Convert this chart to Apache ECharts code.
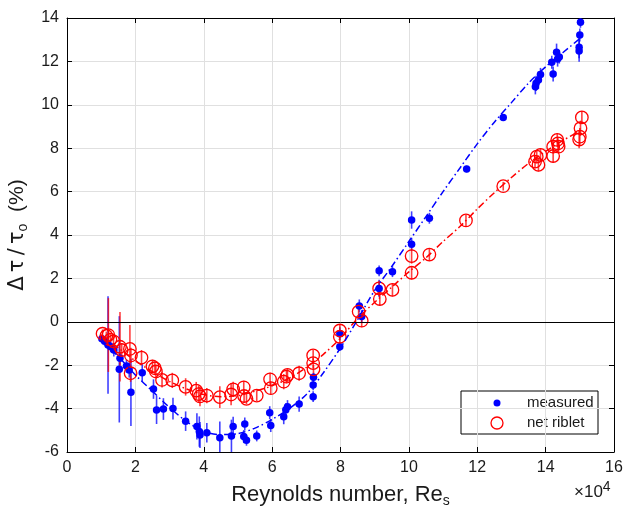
<!DOCTYPE html>
<html>
<head>
<meta charset="utf-8">
<script src="https://cdn.jsdelivr.net/npm/echarts@6/dist/echarts.min.js"></script>
<style>
  html, body { margin: 0; padding: 0; background: #fff; }
  #chart { width: 627px; height: 511px; }
</style>
</head>
<body>
<div id="chart"></div>
<script>
// Reynolds number (×10^4), drag change (%) and half-length of the error bar
var measuredRe = [1.02, 1.10, 1.20, 1.28, 1.37, 1.53, 1.55, 1.74, 1.82, 1.87, 2.20, 2.53, 2.62, 2.82, 3.10, 3.47, 3.80, 3.87, 3.89, 4.09, 4.47, 4.81, 4.86, 5.20, 5.17, 5.25, 5.55, 5.93, 5.96, 6.34, 6.40, 6.45, 6.79, 7.20, 7.20, 7.21, 7.98, 7.98, 8.55, 8.62, 9.13, 9.13, 9.52, 10.08, 10.08, 10.60, 11.69, 12.76, 13.70, 13.72, 13.79, 13.85, 14.18, 14.22, 14.32, 14.35, 14.40, 14.98, 14.98, 15.00, 15.02];
var measuredDrag = [-0.78, -0.90, -1.07, -1.15, -1.30, -2.19, -1.68, -2.04, -2.22, -3.25, -2.35, -3.10, -4.06, -4.02, -4.00, -4.58, -4.82, -5.06, -5.22, -5.11, -5.34, -5.26, -4.83, -4.71, -5.29, -5.46, -5.26, -4.19, -4.78, -4.37, -4.05, -3.91, -3.79, -3.45, -2.91, -2.55, -1.15, -0.55, 0.73, 0.24, 1.54, 2.35, 2.31, 3.57, 4.69, 4.77, 7.04, 9.42, 10.83, 10.99, 11.14, 11.40, 11.96, 11.42, 12.42, 12.11, 12.20, 12.48, 12.65, 13.22, 13.80];
var measuredErr = [0.15, 0.20, 2.25, 0.25, 0.30, 2.45, 0.30, 0.30, 0.35, 1.55, 0.40, 0.45, 0.65, 0.50, 0.50, 0.45, 0.60, 0.70, 0.60, 0.45, 0.75, 0.75, 0.45, 0.30, 0.30, 0.25, 0.25, 0.30, 0.30, 0.35, 0.30, 0.30, 0.35, 0.25, 0.25, 0.20, 0.20, 0.30, 0.30, 0.30, 0.40, 0.25, 0.25, 0.30, 0.40, 0.25, 0.15, 0.15, 0.35, 0.35, 0.40, 0.30, 0.30, 0.35, 0.40, 0.35, 0.30, 0.50, 0.50, 0.30, 0.25];

var netRe = [1.04, 1.15, 1.21, 1.27, 1.36, 1.55, 1.60, 1.84, 1.87, 1.86, 2.18, 2.50, 2.57, 2.60, 2.78, 3.08, 3.47, 3.78, 3.85, 3.89, 4.09, 4.47, 4.80, 4.86, 5.17, 5.18, 5.25, 5.55, 5.94, 5.96, 6.34, 6.42, 6.45, 6.79, 7.20, 7.20, 7.21, 7.98, 7.98, 8.53, 8.62, 9.13, 9.15, 9.52, 10.08, 10.08, 10.60, 11.67, 12.76, 13.69, 13.74, 13.79, 13.85, 14.22, 14.22, 14.34, 14.36, 14.38, 14.98, 15.00, 15.02, 15.06];
var netDrag = [-0.55, -0.65, -0.61, -0.82, -0.90, -1.15, -1.30, -1.25, -1.55, -2.37, -1.65, -2.05, -2.14, -2.29, -2.68, -2.70, -3.00, -3.17, -3.33, -3.44, -3.40, -3.47, -3.35, -3.11, -3.02, -3.42, -3.55, -3.40, -2.65, -3.06, -2.76, -2.53, -2.45, -2.37, -1.55, -1.90, -2.19, -0.40, -0.69, 0.47, 0.05, 1.54, 1.05, 1.47, 3.03, 2.26, 3.10, 4.67, 6.25, 7.38, 7.61, 7.23, 7.69, 8.07, 7.64, 8.38, 8.22, 8.07, 8.40, 8.53, 8.92, 9.42];
var netErr = [0.20, 0.20, 1.70, 0.30, 0.30, 1.60, 0.30, 1.10, 0.35, 0.40, 0.35, 0.30, 0.30, 0.30, 0.35, 0.35, 0.40, 0.40, 0.40, 0.45, 0.35, 0.50, 0.50, 0.35, 0.30, 0.30, 0.25, 0.25, 0.30, 0.30, 0.35, 0.30, 0.30, 0.35, 0.25, 0.25, 0.20, 0.25, 0.30, 0.30, 0.30, 0.35, 0.30, 0.30, 0.35, 0.30, 0.30, 0.25, 0.20, 0.30, 0.30, 0.30, 0.30, 0.30, 0.30, 0.30, 0.30, 0.30, 0.40, 0.40, 0.35, 0.30];

// Smooth fitted trends
var measuredFitRe = [1.0, 1.5, 2.0, 2.5, 3.0, 3.5, 4.0, 4.5, 5.0, 5.5, 6.0, 6.5, 7.0, 7.5, 8.0, 8.5, 9.0, 9.5, 10.0, 10.5, 11.0, 11.5, 12.0, 12.5, 13.0, 13.5, 14.0, 14.5, 15.0];
var measuredFitDrag = [-0.8, -1.6, -2.45, -3.2, -3.95, -4.6, -5.05, -5.2, -5.15, -4.9, -4.5, -4.0, -3.35, -2.35, -1.2, 0.1, 1.45, 2.55, 3.7, 4.85, 6.0, 7.1, 8.2, 9.2, 10.1, 11.0, 11.75, 12.4, 13.05];
var netFitRe = [1.0, 1.5, 2.0, 2.5, 3.0, 3.5, 4.0, 4.5, 5.0, 5.5, 6.0, 6.5, 7.0, 7.5, 8.0, 8.5, 9.0, 9.5, 10.0, 10.5, 11.0, 11.5, 12.0, 12.5, 13.0, 13.5, 14.0, 14.5, 15.0];
var netFitDrag = [-0.6, -1.2, -1.8, -2.3, -2.75, -3.1, -3.35, -3.45, -3.4, -3.2, -2.95, -2.6, -2.1, -1.5, -0.75, 0.15, 0.9, 1.6, 2.3, 2.95, 3.7, 4.4, 5.2, 5.95, 6.65, 7.3, 7.85, 8.35, 8.8];

var xTicks = [0, 16, 2];
var yTicks = [-6, 14, 2];

var BLUE = '#0000ff';
var RED = '#ff0000';
var INK = '#1a1a1a';
var FONT = '"Liberation Sans", Arial, Helvetica, sans-serif';
var GREEK = '"DejaVu Sans", "Liberation Sans", sans-serif';

function zip(a, b) { return a.map(function (v, i) { return [v, b[i]]; }); }
function bars(x, y, e) { return x.map(function (v, i) { return [v, y[i] - e[i], y[i] + e[i]]; }); }

function errorSeries(name, data, color) {
  return {
    name: name,
    type: 'custom',
    silent: true,
    clip: true,
    encode: { x: 0, y: [1, 2] },
    data: data,
    renderItem: function (params, api) {
      var p1 = api.coord([api.value(0), api.value(1)]);
      var p2 = api.coord([api.value(0), api.value(2)]);
      return {
        type: 'line',
        shape: { x1: p1[0], y1: p1[1], x2: p2[0], y2: p2[1] },
        style: { stroke: color, lineWidth: 1.6, opacity: 0.75 }
      };
    }
  };
}

var chart = echarts.init(document.getElementById('chart'), null, { renderer: 'canvas' });

var tickLabel = { color: INK, fontSize: 16, fontFamily: FONT };
// subscript: smaller text pushed to the bottom of the line box
var subStyle = { fontSize: 14, lineHeight: 10, verticalAlign: 'bottom', fontFamily: FONT, color: INK };

chart.setOption({
  animation: false,
  backgroundColor: '#ffffff',
  textStyle: { fontFamily: FONT },
  grid: { left: 67, right: 13, top: 18, bottom: 59, containLabel: false, outerBoundsMode: 'none' },
  xAxis: [{
    type: 'value', min: xTicks[0], max: xTicks[1], interval: xTicks[2],
    position: 'bottom',
    axisLine: { onZero: false, lineStyle: { color: '#000', width: 1 } },
    axisTick: { inside: true, length: 5, lineStyle: { color: '#000' } },
    axisLabel: Object.assign({ margin: 8 }, tickLabel),
    splitLine: { show: true, lineStyle: { color: '#e0e0e0', width: 1 } },
    name: 'Reynolds number, Re{s|s}',
    nameLocation: 'middle',
    nameGap: 30,
    nameTextStyle: {
      color: INK, fontSize: 22, fontFamily: FONT, lineHeight: 26,
      rich: { s: subStyle }
    }
  }, {
    type: 'value', min: xTicks[0], max: xTicks[1], interval: xTicks[2],
    position: 'top',
    axisLine: { onZero: false, lineStyle: { color: '#000', width: 1 } },
    axisTick: { inside: true, length: 5, lineStyle: { color: '#000' } },
    axisLabel: { show: false },
    splitLine: { show: false }
  }],
  yAxis: [{
    type: 'value', min: yTicks[0], max: yTicks[1], interval: yTicks[2],
    position: 'left',
    axisLine: { onZero: false, lineStyle: { color: '#000', width: 1 } },
    axisTick: { inside: true, length: 5, lineStyle: { color: '#000' } },
    axisLabel: Object.assign({ margin: 8 }, tickLabel),
    splitLine: { show: true, lineStyle: { color: '#e0e0e0', width: 1 } },
    name: '{g|Δ\u2009τ\u2009/\u2009τ}{s|o}  (%)',
    nameLocation: 'middle',
    nameRotate: 90,
    nameGap: 31,
    nameTextStyle: {
      color: INK, fontSize: 21, fontFamily: FONT, lineHeight: 26,
      rich: {
        g: { fontSize: 21, fontFamily: GREEK, color: INK, lineHeight: 26 },
        s: subStyle
      }
    }
  }, {
    type: 'value', min: yTicks[0], max: yTicks[1], interval: yTicks[2],
    position: 'right',
    axisLine: { onZero: false, lineStyle: { color: '#000', width: 1 } },
    axisTick: { inside: true, length: 5, lineStyle: { color: '#000' } },
    axisLabel: { show: false },
    splitLine: { show: false }
  }],
  series: [
    {
      name: 'zero', type: 'line', data: [], silent: true,
      markLine: {
        silent: true, symbol: 'none', label: { show: false },
        lineStyle: { color: '#000', type: 'solid', width: 1 },
        data: [{ yAxis: 0 }]
      }
    },
    {
      name: 'measured fit', type: 'line', smooth: 0.3, showSymbol: false, silent: true,
      data: zip(measuredFitRe, measuredFitDrag),
      lineStyle: { color: BLUE, width: 1.5, type: [7, 3, 1.5, 3] }
    },
    {
      name: 'net riblet fit', type: 'line', smooth: 0.3, showSymbol: false, silent: true,
      data: zip(netFitRe, netFitDrag),
      lineStyle: { color: RED, width: 1.5, type: [7, 3, 1.5, 3] }
    },
    errorSeries('measured error', bars(measuredRe, measuredDrag, measuredErr), BLUE),
    {
      name: 'measured', type: 'scatter', symbol: 'circle', symbolSize: 7.5,
      data: zip(measuredRe, measuredDrag),
      itemStyle: { color: BLUE, opacity: 1 }
    },
    errorSeries('net riblet error', bars(netRe, netDrag, netErr), RED),
    {
      name: 'net riblet', type: 'scatter', symbol: 'circle', symbolSize: 12.5,
      data: zip(netRe, netDrag),
      itemStyle: { color: 'rgba(255,255,255,0)', borderColor: RED, borderWidth: 1.3, opacity: 1 }
    }
  ],
  graphic: [
    {
      type: 'text', x: 574, y: 480,
      style: {
        text: '×10{p|4}', fill: INK, font: '17px ' + FONT, lineHeight: 24,
        rich: { p: { fontSize: 14, lineHeight: 14, verticalAlign: 'top', fill: INK, fontFamily: FONT } }
      }
    },
    {
      type: 'group', x: 461, y: 391,
      children: [
        { type: 'rect', shape: { x: 0, y: 0, width: 137, height: 43 }, style: { fill: '#fff', stroke: '#000', lineWidth: 1 } },
        { type: 'circle', shape: { cx: 36, cy: 12, r: 3.5 }, style: { fill: BLUE } },
        { type: 'circle', shape: { cx: 36, cy: 32, r: 6 }, style: { fill: 'none', stroke: RED, lineWidth: 1.3 } },
        { type: 'text', x: 66, y: 12, style: { text: 'measured', fill: INK, font: '15px ' + FONT, verticalAlign: 'middle' } },
        { type: 'text', x: 66, y: 32, style: { text: 'net riblet', fill: INK, font: '15px ' + FONT, verticalAlign: 'middle' } }
      ]
    }
  ]
});
</script>
</body>
</html>
